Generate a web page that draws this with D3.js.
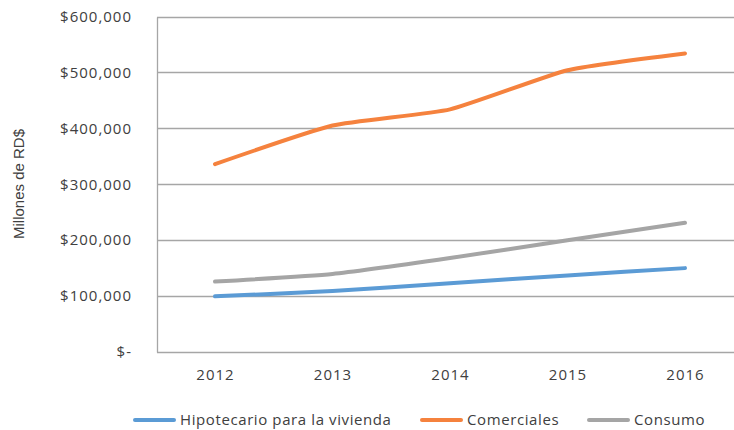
<!DOCTYPE html>
<html>
<head>
<meta charset="utf-8">
<script src="https://cdn.jsdelivr.net/npm/d3@7"></script>
<style>
  html, body { margin: 0; padding: 0; background: #fff; }
  svg { display: block; }
</style>
</head>
<body>
<svg id="chart" width="734" height="430"></svg>
<script>
const years = ["2012", "2013", "2014", "2015", "2016"];
const hipotecario = [99500, 109000, 123000, 137000, 150000];
const comerciales = [336000, 405000, 434000, 504000, 534000];
const consumo = [126000, 139500, 168000, 200000, 231000];
const yTicks = [0, 100000, 200000, 300000, 400000, 500000, 600000];
const seriesNames = ["Hipotecario para la vivienda", "Comerciales", "Consumo"];
const seriesColors = ["#5B9BD5", "#F5823E", "#A5A5A5"];

const series = [hipotecario, comerciales, consumo].map((v, i) => ({
  name: seriesNames[i], color: seriesColors[i], values: v
}));

const svg = d3.select("#chart");
const font = "'Open Sans', Lato, sans-serif";

const x = d3.scalePoint().domain(years).range([215, 685]);
const y = d3.scaleLinear().domain([0, 600000]).range([352, 16.5]);
const left = 157, right = 745;

// gridlines
svg.append("g").selectAll("line").data(yTicks).join("line")
  .attr("x1", left).attr("x2", right)
  .attr("y1", d => Math.round(y(d)) + 0.5).attr("y2", d => Math.round(y(d)) + 0.5)
  .attr("stroke", "#a6a6a6").attr("stroke-width", 1.3);

// y axis line
svg.append("line").attr("x1", left + 0.5).attr("x2", left + 0.5)
  .attr("y1", Math.round(y(600000)) + 0.5).attr("y2", Math.round(y(0)) + 0.5)
  .attr("stroke", "#a6a6a6").attr("stroke-width", 1.3);

// y tick labels
svg.append("g").selectAll("text").data(yTicks).join("text")
  .attr("x", 132).attr("y", d => y(d))
  .attr("dy", "0.35em").attr("text-anchor", "end")
  .attr("font-family", font).attr("font-size", 15).attr("letter-spacing", 1)
  .attr("fill", "#404040")
  .text(d => d === 0 ? "$-" : "$" + d3.format(",")(d));

// x tick labels
svg.append("g").selectAll("text").data(years).join("text")
  .attr("x", d => x(d) + 0.5).attr("y", 375).attr("dy", "0.35em")
  .attr("text-anchor", "middle")
  .attr("font-family", font).attr("font-size", 15).attr("letter-spacing", 1)
  .attr("fill", "#404040")
  .text(d => d);

// y axis title
svg.append("text")
  .attr("transform", "translate(24,184) rotate(-90)")
  .attr("text-anchor", "middle")
  .attr("font-family", "'Liberation Sans', Arial, sans-serif")
  .attr("font-size", 15).attr("fill", "#404040")
  .text("Millones de RD$");

// lines
const line = d3.line()
  .x((d, i) => x(years[i]))
  .y(d => y(d))
  .curve(d3.curveCardinal.tension(0.5));

svg.append("g").selectAll("path").data(series).join("path")
  .attr("d", d => line(d.values))
  .attr("fill", "none").attr("stroke", d => d.color)
  .attr("stroke-width", 4).attr("stroke-linecap", "round").attr("stroke-linejoin", "round");

// legend
const legendX = [135, 422, 589];
const lg = svg.append("g").selectAll("g").data(series).join("g")
  .attr("transform", (d, i) => `translate(${legendX[i]},420)`);
lg.append("line").attr("x1", 0).attr("x2", 39).attr("y1", 0).attr("y2", 0)
  .attr("stroke", d => d.color).attr("stroke-width", 4).attr("stroke-linecap", "round");
lg.append("text").attr("x", 45).attr("y", 0).attr("dy", "0.35em")
  .attr("font-family", font).attr("font-size", 15).attr("letter-spacing", 0.6)
  .attr("fill", "#404040")
  .text(d => d.name);
</script>
</body>
</html>
